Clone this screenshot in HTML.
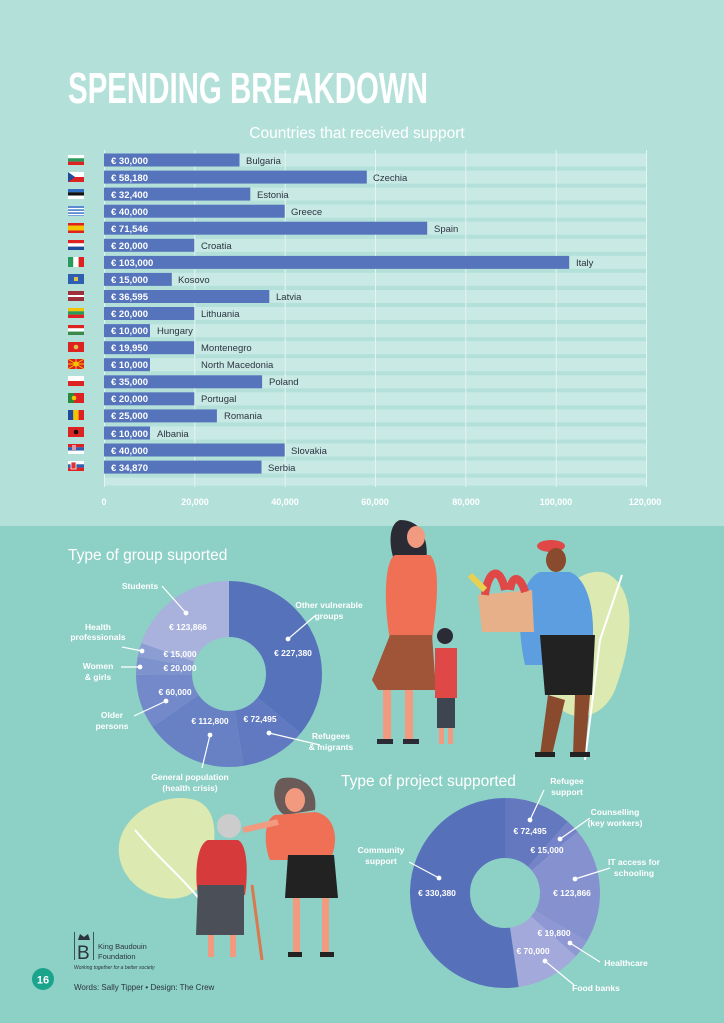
<!DOCTYPE html>
<html><head><meta charset="utf-8"><style>
html,body{margin:0;padding:0;width:724px;height:1023px;overflow:hidden;background:#8dd0c6}
svg{display:block}
text{font-family:"Liberation Sans",sans-serif}
</style></head><body>
<svg width="724" height="1023" viewBox="0 0 724 1023" xmlns="http://www.w3.org/2000/svg">
<rect x="0" y="0" width="724" height="526" fill="#b3e1da"/>
<rect x="0" y="526" width="724" height="497" fill="#8dd0c6"/>
<text x="68" y="103" font-size="44" font-weight="bold" fill="#fff" textLength="360" lengthAdjust="spacingAndGlyphs">SPENDING BREAKDOWN</text>
<text x="357" y="138" font-size="15.5" fill="#fff" text-anchor="middle">Countries that received support</text>

<!-- row backgrounds -->
<g fill="#c9e9e4">
<rect x="104" y="153.5" width="542" height="13"/><rect x="104" y="170.6" width="542" height="13"/><rect x="104" y="187.6" width="542" height="13"/><rect x="104" y="204.7" width="542" height="13"/><rect x="104" y="221.7" width="542" height="13"/><rect x="104" y="238.8" width="542" height="13"/><rect x="104" y="255.9" width="542" height="13"/><rect x="104" y="272.9" width="542" height="13"/><rect x="104" y="290" width="542" height="13"/><rect x="104" y="307" width="542" height="13"/><rect x="104" y="324.1" width="542" height="13"/><rect x="104" y="341.2" width="542" height="13"/><rect x="104" y="358.2" width="542" height="13"/><rect x="104" y="375.3" width="542" height="13"/><rect x="104" y="392.3" width="542" height="13"/><rect x="104" y="409.4" width="542" height="13"/><rect x="104" y="426.5" width="542" height="13"/><rect x="104" y="443.5" width="542" height="13"/><rect x="104" y="460.6" width="542" height="13"/><rect x="104" y="477.6" width="542" height="8"/>
</g>
<g stroke="#e4f4f1" stroke-width="1">
<line x1="104.5" y1="150" x2="104.5" y2="487"/><line x1="194.8" y1="150" x2="194.8" y2="487"/><line x1="285.2" y1="150" x2="285.2" y2="487"/><line x1="375.5" y1="150" x2="375.5" y2="487"/><line x1="465.8" y1="150" x2="465.8" y2="487"/><line x1="556.2" y1="150" x2="556.2" y2="487"/><line x1="646.5" y1="150" x2="646.5" y2="487"/>
</g>
<g fill="#5574bb">
<rect x="104" y="153.5" width="135.5" height="13"/>
<rect x="104" y="170.6" width="262.8" height="13"/>
<rect x="104" y="187.6" width="146.3" height="13"/>
<rect x="104" y="204.7" width="180.7" height="13"/>
<rect x="104" y="221.7" width="323.2" height="13"/>
<rect x="104" y="238.8" width="90.3" height="13"/>
<rect x="104" y="255.9" width="465.2" height="13"/>
<rect x="104" y="272.9" width="67.8" height="13"/>
<rect x="104" y="290" width="165.3" height="13"/>
<rect x="104" y="307" width="90.3" height="13"/>
<rect x="104" y="324.1" width="46" height="13"/>
<rect x="104" y="341.2" width="90.1" height="13"/>
<rect x="104" y="358.2" width="46" height="13"/>
<rect x="104" y="375.3" width="158.1" height="13"/>
<rect x="104" y="392.3" width="90.3" height="13"/>
<rect x="104" y="409.4" width="112.9" height="13"/>
<rect x="104" y="426.5" width="46" height="13"/>
<rect x="104" y="443.5" width="180.7" height="13"/>
<rect x="104" y="460.6" width="157.5" height="13"/>
</g>
<g font-size="9.5" font-weight="bold" fill="#fff">
<text x="111" y="164">€ 30,000</text><text x="111" y="181">€ 58,180</text><text x="111" y="198">€ 32,400</text><text x="111" y="215">€ 40,000</text><text x="111" y="232">€ 71,546</text><text x="111" y="249">€ 20,000</text><text x="111" y="266">€ 103,000</text><text x="111" y="283">€ 15,000</text><text x="111" y="300">€ 36,595</text><text x="111" y="317">€ 20,000</text><text x="111" y="334">€ 10,000</text><text x="111" y="351">€ 19,950</text><text x="111" y="368">€ 10,000</text><text x="111" y="385">€ 35,000</text><text x="111" y="402">€ 20,000</text><text x="111" y="419">€ 25,000</text><text x="111" y="437">€ 10,000</text><text x="111" y="454">€ 40,000</text><text x="111" y="471">€ 34,870</text>
</g>
<g font-size="9.5" fill="#2b3440">
<text x="246" y="164">Bulgaria</text><text x="373" y="181">Czechia</text><text x="257" y="198">Estonia</text><text x="291" y="215">Greece</text><text x="434" y="232">Spain</text><text x="201" y="249">Croatia</text><text x="576" y="266">Italy</text><text x="178" y="283">Kosovo</text><text x="276" y="300">Latvia</text><text x="201" y="317">Lithuania</text><text x="157" y="334">Hungary</text><text x="201" y="351">Montenegro</text><text x="201" y="368">North Macedonia</text><text x="269" y="385">Poland</text><text x="201" y="402">Portugal</text><text x="224" y="419">Romania</text><text x="157" y="437">Albania</text><text x="291" y="454">Slovakia</text><text x="268" y="471">Serbia</text>
</g>
<!-- flags -->
<g>
<rect x="68" y="155" width="16" height="3.3" fill="#fff"/><rect x="68" y="158.3" width="16" height="3.3" fill="#2a9a5a"/><rect x="68" y="161.6" width="16" height="3.4" fill="#d22"/>
<rect x="68" y="172" width="16" height="5" fill="#fff"/><rect x="68" y="177" width="16" height="5" fill="#d22"/><polygon points="68,172 75,177 68,182" fill="#1f4b9a"/>
<rect x="68" y="189" width="16" height="3.3" fill="#2f6ec0"/><rect x="68" y="192.3" width="16" height="3.3" fill="#111"/><rect x="68" y="195.6" width="16" height="3.4" fill="#fff"/>
<rect x="68" y="206" width="16" height="10" fill="#5b8bd0"/><rect x="68" y="208" width="16" height="1.2" fill="#fff"/><rect x="68" y="211" width="16" height="1.2" fill="#fff"/><rect x="68" y="214" width="16" height="1.2" fill="#fff"/>
<rect x="68" y="223" width="16" height="10" fill="#d22"/><rect x="68" y="225.5" width="16" height="5" fill="#f5c400"/>
<rect x="68" y="240" width="16" height="3.3" fill="#d22"/><rect x="68" y="243.3" width="16" height="3.3" fill="#fff"/><rect x="68" y="246.6" width="16" height="3.4" fill="#1f4b9a"/>
<rect x="68" y="257" width="5.3" height="10" fill="#2a9a5a"/><rect x="73.3" y="257" width="5.3" height="10" fill="#fff"/><rect x="78.6" y="257" width="5.4" height="10" fill="#d22"/>
<rect x="68" y="274" width="16" height="10" fill="#2f5fb0"/><rect x="74" y="277" width="4" height="4" fill="#e3c04a"/>
<rect x="68" y="291" width="16" height="10" fill="#9e3039"/><rect x="68" y="295" width="16" height="2" fill="#fff"/>
<rect x="68" y="308" width="16" height="3.3" fill="#f5c400"/><rect x="68" y="311.3" width="16" height="3.3" fill="#2a9a5a"/><rect x="68" y="314.6" width="16" height="3.4" fill="#d22"/>
<rect x="68" y="325" width="16" height="3.3" fill="#d22"/><rect x="68" y="328.3" width="16" height="3.3" fill="#fff"/><rect x="68" y="331.6" width="16" height="3.4" fill="#3a8a4a"/>
<rect x="68" y="342" width="16" height="10" fill="#d22"/><circle cx="76" cy="347" r="2.3" fill="#e3c04a"/>
<rect x="68" y="359" width="16" height="10" fill="#d22"/><circle cx="76" cy="364" r="2.5" fill="#f5c400"/><path d="M68 359L84 369M84 359L68 369M76 359V369M68 364H84" stroke="#f5c400" stroke-width="1"/>
<rect x="68" y="376" width="16" height="5" fill="#fff"/><rect x="68" y="381" width="16" height="5" fill="#d22"/>
<rect x="68" y="393" width="6" height="10" fill="#2a8a3a"/><rect x="74" y="393" width="10" height="10" fill="#d22"/><circle cx="74" cy="398" r="2.3" fill="#f5c400"/>
<rect x="68" y="410" width="5.3" height="10" fill="#1f4b9a"/><rect x="73.3" y="410" width="5.3" height="10" fill="#f5c400"/><rect x="78.6" y="410" width="5.4" height="10" fill="#d22"/>
<rect x="68" y="427" width="16" height="10" fill="#d22"/><circle cx="76" cy="432" r="2.3" fill="#111"/>
<rect x="68" y="444" width="16" height="3.3" fill="#d22"/><rect x="68" y="447.3" width="16" height="3.3" fill="#2f5fb0"/><rect x="68" y="450.6" width="16" height="3.4" fill="#fff"/><rect x="72" y="445" width="4" height="5" fill="#d9a"/>
<rect x="68" y="461" width="16" height="3.3" fill="#fff"/><rect x="68" y="464.3" width="16" height="3.3" fill="#2f5fb0"/><rect x="68" y="467.6" width="16" height="3.4" fill="#d22"/><rect x="71" y="462" width="5" height="7" fill="#d33" stroke="#fff" stroke-width="0.8"/>
</g>
<g font-size="9" font-weight="bold" fill="#fff" text-anchor="middle">
<text x="104" y="505">0</text><text x="195" y="505">20,000</text><text x="285" y="505">40,000</text><text x="375" y="505">60,000</text><text x="466" y="505">80,000</text><text x="556" y="505">100,000</text><text x="645" y="505">120,000</text>
</g>

<!-- section headings -->
<text x="68" y="560" font-size="15.5" fill="#fff">Type of group suported</text>
<text x="341" y="786" font-size="15.5" fill="#fff">Type of project supported</text>

<!-- donut 1 -->
<g transform="translate(229,674) rotate(-90)" fill="none" stroke-width="56">
<circle r="65" stroke="#5572ba" stroke-dasharray="147.05 500" stroke-dashoffset="0"/>
<circle r="65" stroke="#6079c0" stroke-dasharray="46.88 500" stroke-dashoffset="-147.05"/>
<circle r="65" stroke="#6880c4" stroke-dasharray="72.95 500" stroke-dashoffset="-193.93"/>
<circle r="65" stroke="#7389c9" stroke-dasharray="38.8 500" stroke-dashoffset="-266.88"/>
<circle r="65" stroke="#7e93ce" stroke-dasharray="12.93 500" stroke-dashoffset="-305.68"/>
<circle r="65" stroke="#8b9dd3" stroke-dasharray="9.7 500" stroke-dashoffset="-318.61"/>
<circle r="65" stroke="#a9b1dd" stroke-dasharray="80.1 500" stroke-dashoffset="-328.31"/>
</g>
<g stroke="#fff" stroke-width="1.2" fill="#fff">
<line x1="162" y1="586" x2="186" y2="613"/><circle cx="186" cy="613" r="1.8"/>
<line x1="316" y1="615" x2="288" y2="639"/><circle cx="288" cy="639" r="1.8"/>
<line x1="122" y1="647" x2="142" y2="651"/><circle cx="142" cy="651" r="1.8"/>
<line x1="121" y1="667" x2="140" y2="667"/><circle cx="140" cy="667" r="1.8"/>
<line x1="134" y1="716" x2="166" y2="701"/><circle cx="166" cy="701" r="1.8"/>
<line x1="202" y1="768" x2="210" y2="735"/><circle cx="210" cy="735" r="1.8"/>
<line x1="320" y1="745" x2="269" y2="733"/><circle cx="269" cy="733" r="1.8"/>
</g>
<g font-size="8.5" font-weight="bold" fill="#fff" text-anchor="middle">
<text x="140" y="589">Students</text>
<text x="329" y="608">Other vulnerable</text><text x="329" y="619">groups</text>
<text x="98" y="630">Health</text><text x="98" y="640">professionals</text>
<text x="98" y="669">Women</text><text x="98" y="680">&amp; girls</text>
<text x="112" y="718">Older</text><text x="112" y="729">persons</text>
<text x="331" y="739">Refugees</text><text x="331" y="750">&amp; migrants</text>
<text x="190" y="780">General population</text><text x="190" y="791">(health crisis)</text>
<text x="188" y="630">€ 123,866</text>
<text x="293" y="656">€ 227,380</text>
<text x="180" y="657">€ 15,000</text>
<text x="180" y="671">€ 20,000</text>
<text x="175" y="695">€ 60,000</text>
<text x="210" y="724">€ 112,800</text>
<text x="260" y="722">€ 72,495</text>
</g>

<!-- donut 2 -->
<g transform="translate(505,893) rotate(-90)" fill="none" stroke-width="60">
<circle r="65" stroke="#6478c0" stroke-dasharray="46.88 500" stroke-dashoffset="0"/>
<circle r="65" stroke="#7584c8" stroke-dasharray="9.7 500" stroke-dashoffset="-46.88"/>
<circle r="65" stroke="#8692cf" stroke-dasharray="80.1 500" stroke-dashoffset="-56.58"/>
<circle r="65" stroke="#8f98d2" stroke-dasharray="12.8 500" stroke-dashoffset="-136.68"/>
<circle r="65" stroke="#a3a9db" stroke-dasharray="45.27 500" stroke-dashoffset="-149.48"/>
<circle r="65" stroke="#5670ba" stroke-dasharray="213.65 500" stroke-dashoffset="-194.75"/>
</g>
<g stroke="#fff" stroke-width="1.2" fill="#fff">
<line x1="544" y1="790" x2="530" y2="820"/><circle cx="530" cy="820" r="1.8"/>
<line x1="590" y1="818" x2="560" y2="839"/><circle cx="560" cy="839" r="1.8"/>
<line x1="610" y1="868" x2="575" y2="879"/><circle cx="575" cy="879" r="1.8"/>
<line x1="409" y1="862" x2="439" y2="878"/><circle cx="439" cy="878" r="1.8"/>
<line x1="600" y1="962" x2="570" y2="943"/><circle cx="570" cy="943" r="1.8"/>
<line x1="574" y1="985" x2="545" y2="961"/><circle cx="545" cy="961" r="1.8"/>
</g>
<g font-size="8.5" font-weight="bold" fill="#fff" text-anchor="middle">
<text x="567" y="784">Refugee</text><text x="567" y="795">support</text>
<text x="615" y="815">Counselling</text><text x="615" y="826">(key workers)</text>
<text x="634" y="865">IT access for</text><text x="634" y="876">schooling</text>
<text x="381" y="853">Community</text><text x="381" y="864">support</text>
<text x="626" y="966">Healthcare</text>
<text x="596" y="991">Food banks</text>
<text x="530" y="834">€ 72,495</text>
<text x="547" y="853">€ 15,000</text>
<text x="572" y="896">€ 123,866</text>
<text x="437" y="896">€ 330,380</text>
<text x="554" y="936">€ 19,800</text>
<text x="533" y="954">€ 70,000</text>
</g>

<!-- illustrations: top -->
<path d="M548 640 C540 600 585 560 610 575 C640 595 630 650 615 690 C600 725 560 725 548 690 Z" fill="#dce9b0"/>
<path d="M585 760 L600 640 L622 575" stroke="#fff" stroke-width="2" fill="none"/>
<!-- woman -->
<path d="M400 520 C385 525 390 560 400 570 L425 570 C430 545 425 520 400 520Z" fill="#2b2b35"/>
<path d="M395 555 C385 560 383 600 390 640 L432 640 C438 600 440 565 430 555Z" fill="#ef7055"/>
<path d="M390 635 L372 680 L378 690 L436 690 L432 635Z" fill="#a05438"/>
<rect x="383" y="690" width="8" height="50" fill="#f29a80"/><rect x="405" y="690" width="8" height="50" fill="#f29a80"/>
<ellipse cx="416" cy="537" rx="9" ry="11" fill="#f29a80"/>
<rect x="377" y="739" width="16" height="5" fill="#2b2b35"/><rect x="403" y="739" width="16" height="5" fill="#2b2b35"/>
<!-- boy -->
<circle cx="445" cy="636" r="8" fill="#2b2b35"/>
<rect x="435" y="648" width="22" height="50" fill="#e04848"/>
<rect x="437" y="698" width="18" height="30" fill="#3d4650"/>
<rect x="439" y="728" width="5" height="16" fill="#f29a80"/><rect x="448" y="728" width="5" height="16" fill="#f29a80"/>
<!-- man -->
<ellipse cx="551" cy="546" rx="14" ry="6" fill="#e04848"/>
<ellipse cx="556" cy="560" rx="10" ry="12" fill="#8a4a2e"/>
<path d="M540 572 C520 580 515 620 525 665 L590 665 C598 620 590 580 570 572Z" fill="#5c9ee0"/>
<path d="M540 635 L545 695 L592 695 L595 635Z" fill="#222"/>
<path d="M548 695 L540 755 L552 755 L565 700 Z" fill="#8a4a2e"/><path d="M575 695 L573 755 L585 755 L590 695 Z" fill="#8a4a2e"/>
<rect x="535" y="752" width="20" height="5" fill="#222"/><rect x="570" y="752" width="20" height="5" fill="#222"/>
<path d="M478 595 L532 590 L534 632 L482 632Z" fill="#e8b088"/>
<path d="M485 595 C488 570 500 565 505 590 M510 590 C512 575 520 575 525 592" stroke="#e04848" stroke-width="8" fill="none"/>
<path d="M470 575 L485 590" stroke="#e8d050" stroke-width="6"/>
<!-- bottom illustration -->
<path d="M120 860 C110 820 160 790 195 800 C225 810 215 860 200 885 C185 910 130 900 120 860Z" fill="#dce9b0"/>
<path d="M135 830 C160 860 185 880 200 900" stroke="#fff" stroke-width="2" fill="none"/>
<circle cx="229" cy="826" r="12" fill="#ccc"/>
<path d="M208 840 C195 845 195 880 198 895 L245 895 C248 875 248 845 238 840Z" fill="#d63a3a"/>
<path d="M198 885 L196 935 L244 935 L244 885Z" fill="#4b5058"/>
<rect x="208" y="935" width="6" height="22" fill="#f29a80"/><rect x="230" y="935" width="6" height="22" fill="#f29a80"/>
<line x1="252" y1="885" x2="262" y2="960" stroke="#d9794f" stroke-width="3"/>
<path d="M283 778 C270 780 272 810 285 815 L315 810 C318 790 305 775 283 778Z" fill="#6a5a58"/>
<ellipse cx="295" cy="800" rx="10" ry="12" fill="#f29a80"/>
<path d="M275 815 C262 820 265 850 270 860 L330 860 C340 840 335 815 315 812Z" fill="#ef7055"/>
<path d="M243 830 L278 822" stroke="#f29a80" stroke-width="6"/>
<path d="M288 855 L285 898 L338 898 L334 855Z" fill="#222"/>
<rect x="293" y="898" width="7" height="55" fill="#f29a80"/><rect x="322" y="898" width="7" height="55" fill="#f29a80"/>
<rect x="288" y="952" width="14" height="5" fill="#222"/><rect x="320" y="952" width="14" height="5" fill="#222"/>
<!-- logo -->
<line x1="74.5" y1="932" x2="74.5" y2="960" stroke="#2b3440" stroke-width="0.8"/>
<line x1="93.5" y1="932" x2="93.5" y2="960" stroke="#2b3440" stroke-width="0.8"/>
<path d="M78 940 L80 934 L84 937 L88 934 L90 940Z" fill="#2b3440"/>
<text x="77" y="959" font-family="Liberation Serif" font-size="19" fill="#2b3440">B</text>
<text x="98" y="949" font-size="7.5" fill="#2b3440">King Baudouin</text>
<text x="98" y="959" font-size="7.5" fill="#2b3440">Foundation</text>
<text x="74" y="969" font-size="5" font-style="italic" fill="#2b3440" font-family="Liberation Serif">Working together for a better society</text>
<circle cx="43" cy="979" r="11" fill="#1aa48c"/>
<text x="43" y="983.5" font-size="11" font-weight="bold" fill="#fff" text-anchor="middle">16</text>
<text x="74" y="990" font-size="8" fill="#2b3440">Words: Sally Tipper •  Design: The Crew</text>
</svg>
</body></html>
